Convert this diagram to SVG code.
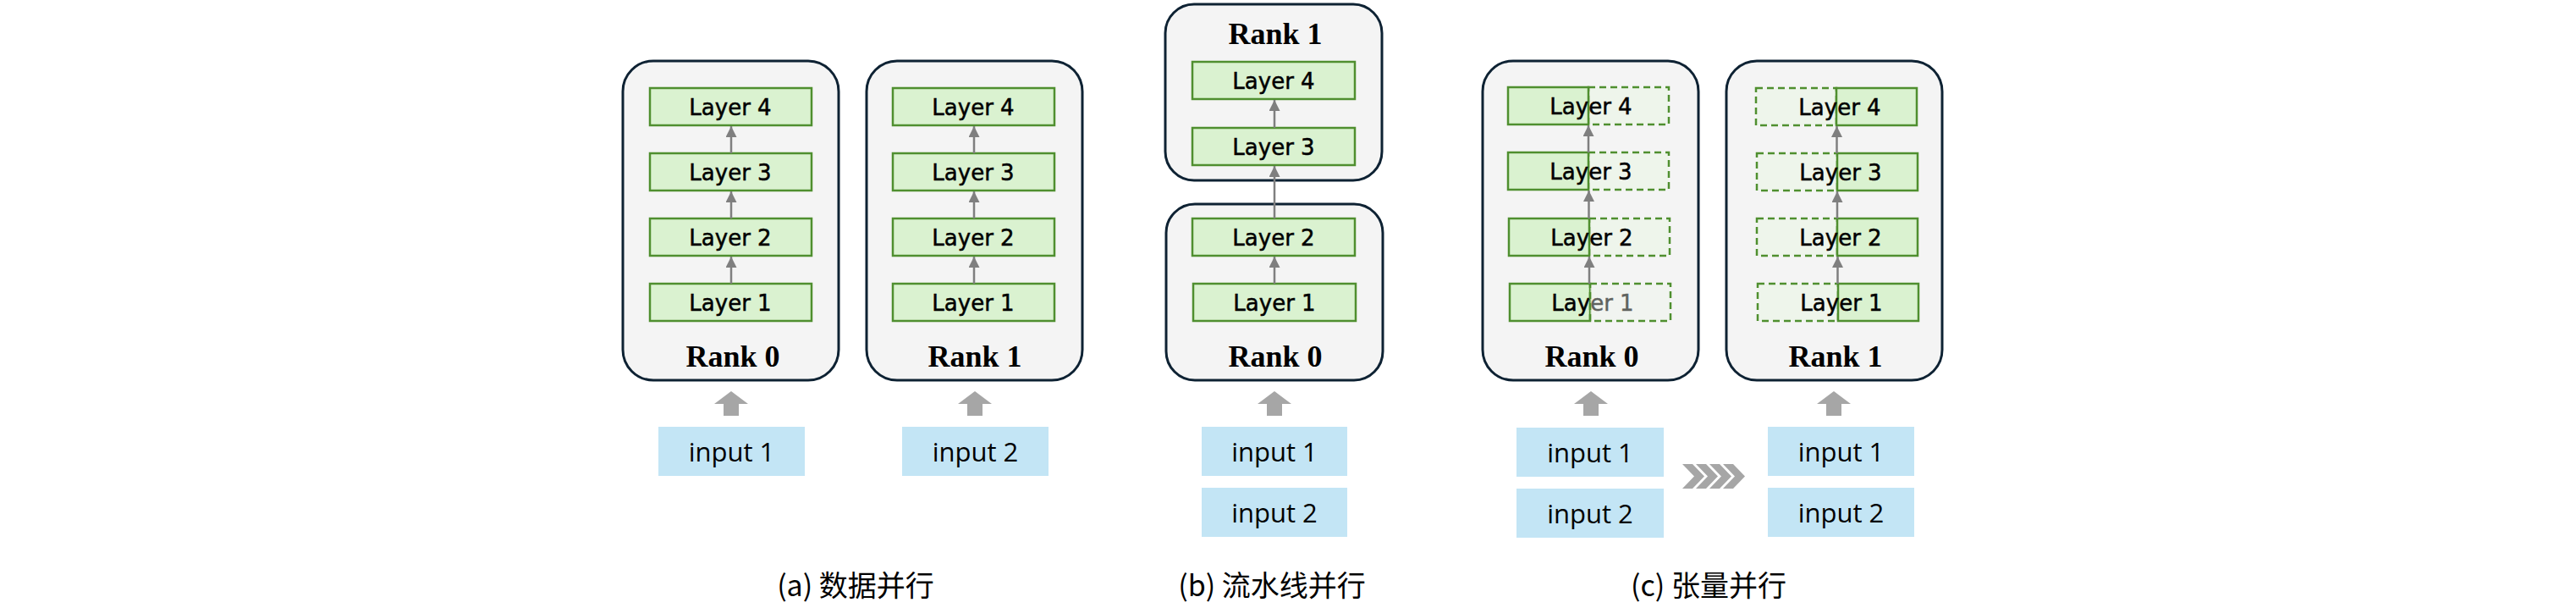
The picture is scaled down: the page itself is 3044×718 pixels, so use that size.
<svg xmlns="http://www.w3.org/2000/svg" width="3044" height="718" viewBox="0 0 3044 718">
<defs>
<style>
.rank{fill:#f4f4f4;stroke:#0e2233;stroke-width:3}
.layer{fill:#daf2d0;stroke:#4f8f2f;stroke-width:2.5}
.dash{fill:#eef5eb;stroke:#4f8f2f;stroke-width:2.5;stroke-dasharray:8 5}
.inp{fill:#c3e5f5}
.lt{font-family:"DejaVu Sans",Lato,sans-serif;font-size:26px;fill:#000;stroke:#000;stroke-width:0.5;text-anchor:middle}
.rt{font-family:"Liberation Serif","Times New Roman",serif;font-size:36px;font-weight:bold;fill:#000;text-anchor:middle}
.it{font-family:"Open Sans","Noto Sans",sans-serif;font-size:31px;fill:#000;text-anchor:middle}
.cap{font-family:"Noto Sans CJK SC","Noto Sans",sans-serif;font-size:34px;fill:#000;text-anchor:middle}
.conn{stroke:#7f7f7f;stroke-width:2.5;fill:none;marker-end:url(#ah)}
.blk{fill:#a6a6a6}
</style>
<marker id="ah" markerUnits="userSpaceOnUse" markerWidth="13" markerHeight="13" refX="13" refY="6.5" orient="auto">
<path d="M0,0 L13,6.5 L0,13 Z" fill="#7f7f7f"/>
</marker>
<path id="barrow" d="M-20,15 L0,0 L20,15 L9,15 L9,29 L-9,29 L-9,15 Z"/>
<path id="chev" d="M0,0 L12,0 L26,14.5 L12,29 L0,29 L14,14.5 Z"/>
</defs>
<rect width="3044" height="718" fill="#fff"/>

<!-- Panel (a) data parallel -->
<g id="a-rank0">
<rect class="rank" x="736" y="72" width="255" height="377" rx="36"/>
<text class="rt" x="866" y="433">Rank 0</text>
</g>
<g id="a-r0-layer4"><rect class="layer" x="768" y="104" width="191" height="44"/><text class="lt" x="863" y="135.5">Layer 4</text></g>
<g id="a-r0-layer3"><rect class="layer" x="768" y="181" width="191" height="44"/><text class="lt" x="863" y="212.5">Layer 3</text></g>
<g id="a-r0-layer2"><rect class="layer" x="768" y="258" width="191" height="44"/><text class="lt" x="863" y="289.5">Layer 2</text></g>
<g id="a-r0-layer1"><rect class="layer" x="768" y="335" width="191" height="44"/><text class="lt" x="863" y="366.5">Layer 1</text></g>

<g id="a-rank1">
<rect class="rank" x="1024" y="72" width="255" height="377" rx="36"/>
<text class="rt" x="1152" y="433">Rank 1</text>
</g>
<g id="a-r1-layer4"><rect class="layer" x="1055" y="104" width="191" height="44"/><text class="lt" x="1150" y="135.5">Layer 4</text></g>
<g id="a-r1-layer3"><rect class="layer" x="1055" y="181" width="191" height="44"/><text class="lt" x="1150" y="212.5">Layer 3</text></g>
<g id="a-r1-layer2"><rect class="layer" x="1055" y="258" width="191" height="44"/><text class="lt" x="1150" y="289.5">Layer 2</text></g>
<g id="a-r1-layer1"><rect class="layer" x="1055" y="335" width="191" height="44"/><text class="lt" x="1150" y="366.5">Layer 1</text></g>

<g id="a-input1"><rect class="inp" x="778" y="504" width="173" height="58"/><text class="it" x="864.5" y="545">input 1</text></g>
<g id="a-input2"><rect class="inp" x="1066" y="504" width="173" height="58"/><text class="it" x="1152.5" y="545">input 2</text></g>
<g id="a-caption"><text class="cap" x="1011" y="704">(a) 数据并行</text></g>

<!-- Panel (b) pipeline parallel -->
<g id="b-rank1">
<rect class="rank" x="1377" y="5" width="256" height="208" rx="34"/>
<text class="rt" x="1507" y="52">Rank 1</text>
</g>
<g id="b-rank0">
<rect class="rank" x="1378" y="241" width="256" height="208" rx="34"/>
<text class="rt" x="1507" y="433">Rank 0</text>
</g>
<g id="b-layer4"><rect class="layer" x="1409" y="73" width="192" height="44"/><text class="lt" x="1505" y="104.5">Layer 4</text></g>
<g id="b-layer3"><rect class="layer" x="1409" y="151" width="192" height="44"/><text class="lt" x="1505" y="182.5">Layer 3</text></g>
<g id="b-layer2"><rect class="layer" x="1409" y="258" width="192" height="44"/><text class="lt" x="1505" y="289.5">Layer 2</text></g>
<g id="b-layer1"><rect class="layer" x="1410" y="335" width="192" height="44"/><text class="lt" x="1506" y="366.5">Layer 1</text></g>
<g id="b-input1"><rect class="inp" x="1420" y="504" width="172" height="58"/><text class="it" x="1506" y="545">input 1</text></g>
<g id="b-input2"><rect class="inp" x="1420" y="576" width="172" height="58"/><text class="it" x="1506" y="617">input 2</text></g>
<g id="b-caption"><text class="cap" x="1503" y="704">(b) 流水线并行</text></g>

<!-- Panel (c) tensor parallel -->
<g id="c-rank0">
<rect class="rank" x="1752" y="72" width="255" height="377" rx="36"/>
<text class="rt" x="1881" y="433">Rank 0</text>
</g>
<g id="c-r0-layer4"><rect class="dash" x="1877" y="103" width="95" height="44"/><rect class="layer" x="1782" y="103" width="95" height="44"/><text class="lt" x="1880" y="134.5">Layer 4</text></g>
<g id="c-r0-layer3"><rect class="dash" x="1877" y="180" width="95" height="44"/><rect class="layer" x="1782" y="180" width="95" height="44"/><text class="lt" x="1880" y="211.5">Layer 3</text></g>
<g id="c-r0-layer2"><rect class="dash" x="1878" y="258" width="95" height="44"/><rect class="layer" x="1783" y="258" width="95" height="44"/><text class="lt" x="1881" y="289.5">Layer 2</text></g>
<g id="c-r0-layer1"><rect class="layer" x="1784" y="335" width="95" height="44"/><text class="lt" x="1882" y="366.5">Layer 1</text><rect class="dash" x="1879" y="335" width="95" height="44" fill-opacity="0.4"/></g>

<g id="c-rank1">
<rect class="rank" x="2040" y="72" width="255" height="377" rx="36"/>
<text class="rt" x="2169" y="433">Rank 1</text>
</g>
<g id="c-r1-layer4"><rect class="dash" x="2075" y="104" width="95" height="44"/><rect class="layer" x="2170" y="104" width="95" height="44"/><text class="lt" x="2174" y="135.5">Layer 4</text></g>
<g id="c-r1-layer3"><rect class="dash" x="2076" y="181" width="95" height="44"/><rect class="layer" x="2171" y="181" width="95" height="44"/><text class="lt" x="2175" y="212.5">Layer 3</text></g>
<g id="c-r1-layer2"><rect class="dash" x="2076" y="258" width="95" height="44"/><rect class="layer" x="2171" y="258" width="95" height="44"/><text class="lt" x="2175" y="289.5">Layer 2</text></g>
<g id="c-r1-layer1"><rect class="dash" x="2077" y="335" width="95" height="44"/><rect class="layer" x="2172" y="335" width="95" height="44"/><text class="lt" x="2176" y="366.5">Layer 1</text></g>

<g id="c-r0-input1"><rect class="inp" x="1792" y="505" width="174" height="58"/><text class="it" x="1879" y="546">input 1</text></g>
<g id="c-r0-input2"><rect class="inp" x="1792" y="577" width="174" height="58"/><text class="it" x="1879" y="618">input 2</text></g>
<g id="c-r1-input1"><rect class="inp" x="2089" y="504" width="173" height="58"/><text class="it" x="2175.5" y="545">input 1</text></g>
<g id="c-r1-input2"><rect class="inp" x="2089" y="576" width="173" height="58"/><text class="it" x="2175.5" y="617">input 2</text></g>
<g id="c-transfer" class="blk">
<use href="#chev" x="1988" y="548"/>
<use href="#chev" x="2004" y="548"/>
<use href="#chev" x="2020" y="548"/>
<use href="#chev" x="2036" y="548"/>
</g>
<g id="c-caption"><text class="cap" x="2019" y="704">(c) 张量并行</text></g>

<!-- Connectors -->
<g id="connectors">
<line class="conn" x1="864" y1="335" x2="864" y2="303"/>
<line class="conn" x1="864" y1="258" x2="864" y2="226"/>
<line class="conn" x1="864" y1="181" x2="864" y2="149"/>
<line class="conn" x1="1151" y1="335" x2="1151" y2="303"/>
<line class="conn" x1="1151" y1="258" x2="1151" y2="226"/>
<line class="conn" x1="1151" y1="181" x2="1151" y2="149"/>
<line class="conn" x1="1506" y1="335" x2="1506" y2="303"/>
<line class="conn" x1="1506" y1="258" x2="1506" y2="196"/>
<line class="conn" x1="1506" y1="151" x2="1506" y2="118"/>
<line class="conn" x1="1878" y1="335" x2="1878" y2="303"/>
<line class="conn" x1="1877.5" y1="258" x2="1877.5" y2="225"/>
<line class="conn" x1="1877" y1="180" x2="1877" y2="148"/>
<line class="conn" x1="2171.5" y1="335" x2="2171.5" y2="303"/>
<line class="conn" x1="2171" y1="258" x2="2171" y2="226"/>
<line class="conn" x1="2170.5" y1="181" x2="2170.5" y2="149"/>
<g class="blk">
<use href="#barrow" x="864" y="462"/>
<use href="#barrow" x="1152" y="462"/>
<use href="#barrow" x="1506" y="462"/>
<use href="#barrow" x="1880" y="462"/>
<use href="#barrow" x="2167" y="462"/>
</g>
</g>
</svg>
